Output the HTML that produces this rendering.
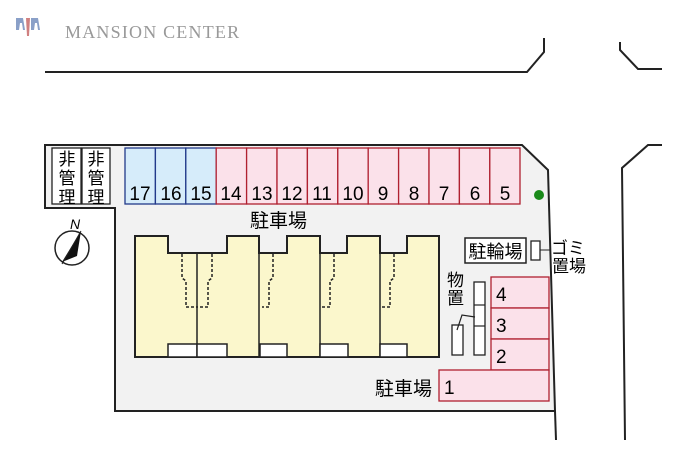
<!DOCTYPE html>
<html><head><meta charset="utf-8"><style>
body{margin:0;background:#fff;}
svg{display:block}
text{font-family:"Liberation Sans","Noto Sans CJK JP",sans-serif;}
</style></head><body>
<svg width="700" height="466" viewBox="0 0 700 466" xmlns="http://www.w3.org/2000/svg">
<g fill="#8aa0c8"><path d="M16 18h7l2 12h-2l-1 -7h-2l-1 7h-3z"/><path d="M26 18h4l-1 18h-2z" fill="#d08080"/><path d="M31 18h7l2 12h-2l-1-7h-2l-1 7h-3z"/></g>
<text x="65" y="38" font-size="18" fill="#999" letter-spacing="1.2" style="font-family:'Liberation Serif',serif">MANSION CENTER</text>
<g fill="none" stroke="#222" stroke-width="2">
<polyline points="45,72 527,72 544,52 544,38"/>
<polyline points="620,42 620,50 638,69 662,69"/>
<polyline points="662,145 648,145 622,168 625,440"/>
</g>
<polygon points="45,145 522,145 548,170 555,411 115,411 115,208 45,208" fill="#f2f2f2" stroke="#222" stroke-width="2"/>
<line x1="555" y1="411" x2="556" y2="440" stroke="#222" stroke-width="2"/>
<g fill="#fff" stroke="#222" stroke-width="1.3"><rect x="52" y="148" width="29" height="56"/><rect x="82" y="148" width="28" height="56"/></g>
<g font-size="17" text-anchor="middle"><text x="67" y="165">非</text><text x="67" y="184">管</text><text x="67" y="203">理</text>
<text x="96" y="165">非</text><text x="96" y="184">管</text><text x="96" y="203">理</text></g>
<g stroke-width="1.3">
<rect x="125" y="148" width="30.4" height="56" fill="#d6ecfa" stroke="#223a8a"/>
<rect x="155.4" y="148" width="30.4" height="56" fill="#d6ecfa" stroke="#223a8a"/>
<rect x="185.8" y="148" width="30.4" height="56" fill="#d6ecfa" stroke="#223a8a"/>
<g fill="#fbe1ea" stroke="#b02030">
<rect x="216.2" y="148" width="30.4" height="56"/><rect x="246.6" y="148" width="30.4" height="56"/><rect x="277" y="148" width="30.4" height="56"/><rect x="307.4" y="148" width="30.4" height="56"/><rect x="337.8" y="148" width="30.4" height="56"/><rect x="368.2" y="148" width="30.4" height="56"/><rect x="398.6" y="148" width="30.4" height="56"/><rect x="429" y="148" width="30.4" height="56"/><rect x="459.4" y="148" width="30.4" height="56"/><rect x="489.8" y="148" width="30.2" height="56"/>
</g></g>
<g font-size="19" text-anchor="middle">
<text x="140" y="200">17</text><text x="171" y="200">16</text><text x="201" y="200">15</text><text x="231" y="200">14</text><text x="262" y="200">13</text><text x="292" y="200">12</text><text x="322" y="200">11</text><text x="353" y="200">10</text><text x="383" y="200">9</text><text x="414" y="200">8</text><text x="444" y="200">7</text><text x="475" y="200">6</text><text x="505" y="200">5</text></g>
<circle cx="539" cy="195" r="5" fill="#1a8a1a"/>
<text x="250" y="227" font-size="19">駐車場</text>
<circle cx="72" cy="248" r="17" fill="#fff" stroke="#222" stroke-width="1.5"/>
<polygon points="81,231 62,262 77,256" fill="#111"/>
<line x1="81" y1="231" x2="62" y2="264" stroke="#222"/>
<text x="75" y="229" font-size="14" font-style="italic" text-anchor="middle">N</text>
<path d="M135,236 H168 V253 H227 V236 H259 V253 H287 V236 H320 V253 H347 V236 H380 V253 H407 V236 H439 V357 H135 Z" fill="#fbf7cc" stroke="#222" stroke-width="2"/>
<g stroke="#222" stroke-width="1.5"><line x1="197" y1="253" x2="197" y2="357"/><line x1="259" y1="236" x2="259" y2="357"/><line x1="320" y1="236" x2="320" y2="357"/><line x1="380" y1="236" x2="380" y2="357"/></g>
<g fill="#fff" stroke="#222" stroke-width="1.5"><rect x="168" y="344" width="29" height="13"/><rect x="197" y="344" width="30" height="13"/><rect x="260" y="344" width="27" height="13"/><rect x="320" y="344" width="28" height="13"/><rect x="380" y="344" width="27" height="13"/></g>
<g fill="none" stroke="#222" stroke-width="1.5" stroke-dasharray="3,2">
<polyline points="182,254 182,278 186,281 186,307 197,307"/>
<polyline points="212,254 212,278 208,281 208,307 197,307"/>
<polyline points="273,254 273,278 269,281 269,307 262,307"/>
<polyline points="334,254 334,278 330,281 330,307 322,307"/>
<polyline points="394,254 394,278 390,281 390,307 382,307"/>
</g>
<rect x="465" y="238" width="61" height="25" fill="#fff" stroke="#222" stroke-width="1.5"/>
<text x="495.5" y="258" font-size="18" text-anchor="middle">駐輪場</text>
<rect x="531" y="241" width="9" height="19" fill="#fff" stroke="#222" stroke-width="1.3"/>
<line x1="540" y1="250" x2="550" y2="250" stroke="#222"/>
<text x="551" y="254" font-size="17">ゴミ</text>
<text x="552" y="272" font-size="17">置場</text>
<text x="447" y="286" font-size="17">物</text>
<text x="447" y="304" font-size="17">置</text>
<g fill="#fff" stroke="#222" stroke-width="1.3"><rect x="474" y="282" width="11" height="73"/><rect x="452" y="325" width="11" height="30"/></g>
<g stroke="#222" stroke-width="1.2" fill="none"><line x1="474" y1="305" x2="485" y2="305"/><line x1="474" y1="326" x2="485" y2="326"/><polyline points="457,330 462,315 475,317"/></g>
<g fill="#fbe1ea" stroke="#b02030" stroke-width="1.3">
<rect x="491" y="277" width="58" height="31"/><rect x="491" y="308" width="58" height="31"/><rect x="491" y="339" width="58" height="31"/><rect x="439" y="370" width="110" height="31"/></g>
<g font-size="19"><text x="496" y="301">4</text><text x="496" y="332">3</text><text x="496" y="363">2</text><text x="444" y="394">1</text></g>
<text x="375" y="395" font-size="19">駐車場</text>
</svg>
</body></html>
